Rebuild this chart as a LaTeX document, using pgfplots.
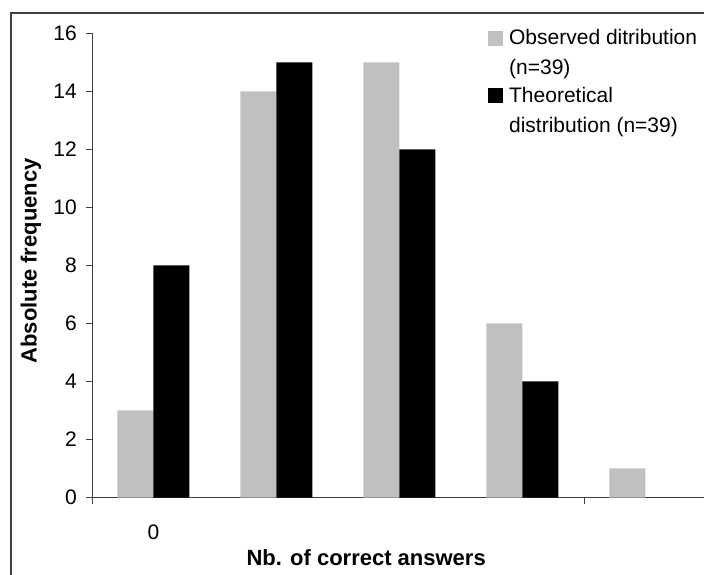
\documentclass[border=0pt]{standalone}
\usepackage{fontspec}
\setmainfont{Liberation Sans}
\usepackage{pgfplots}
\pgfplotsset{compat=1.18}
\definecolor{obsgray}{HTML}{C0C0C0}
\definecolor{axgray}{HTML}{404040}
\begin{document}
\begin{tikzpicture}
\useasboundingbox (0,0) rectangle (704bp,575bp);
\draw[axgray, line width=1.3bp] (11bp,0) -- (11bp,562bp) -- (704bp,562bp);
\begin{axis}[
  at={(92bp,77.5bp)}, anchor=south west,
  scale only axis, width=612bp, height=464bp,
  xmin=-0.5, xmax=4.476, ymin=0, ymax=16,
  ytick={0,2,...,16},
  xtick={-0.5,3.5}, xticklabels={},
  extra x ticks={0}, extra x tick labels={0},
  extra x tick style={major tick length=0pt, xticklabel style={yshift=-24bp}},
  axis x line=bottom, axis y line=left,
  axis line style={-, axgray, line width=0.9bp},
  tick style={axgray, line width=0.9bp},
  tick align=outside, major tick length=6bp,
  /pgf/number format/assume math mode=true,
  tick label style={font=\fontsize{21bp}{25bp}\selectfont},
  yticklabel style={inner sep=0pt, anchor=east, xshift=-9bp},
  ybar=0pt, bar width=36bp,
  xlabel={Nb. of correct answers},
  ylabel={Absolute frequency},
  label style={font=\bfseries\fontsize{22bp}{26bp}\selectfont},
  xlabel style={at={(axis description cs:0.448,-0.130)}, anchor=center},
  ylabel style={at={(axis description cs:-0.0997,0.51)}, anchor=center},
  legend style={draw=none, fill=none, at={(axis description cs:0.647,1.013)}, anchor=north west,
    font=\fontsize{21bp}{30bp}\selectfont, cells={align=left}, inner sep=0pt,
    row sep=6.5bp, column sep=4bp},
  legend cell align=left,
  legend image code/.code={\fill[#1] (0bp,7bp) rectangle (15bp,22bp);},
]
\addplot[fill=obsgray, draw=none] coordinates {(0,3) (1,14) (2,15) (3,6) (4,1)};
\addplot[fill=black, draw=none] coordinates {(0,8) (1,15) (2,12) (3,4) (4,0)};
\legend{{Observed ditribution\\(n=39)},{Theoretical\\distribution (n=39)}}
\end{axis}
\end{tikzpicture}
\end{document}
